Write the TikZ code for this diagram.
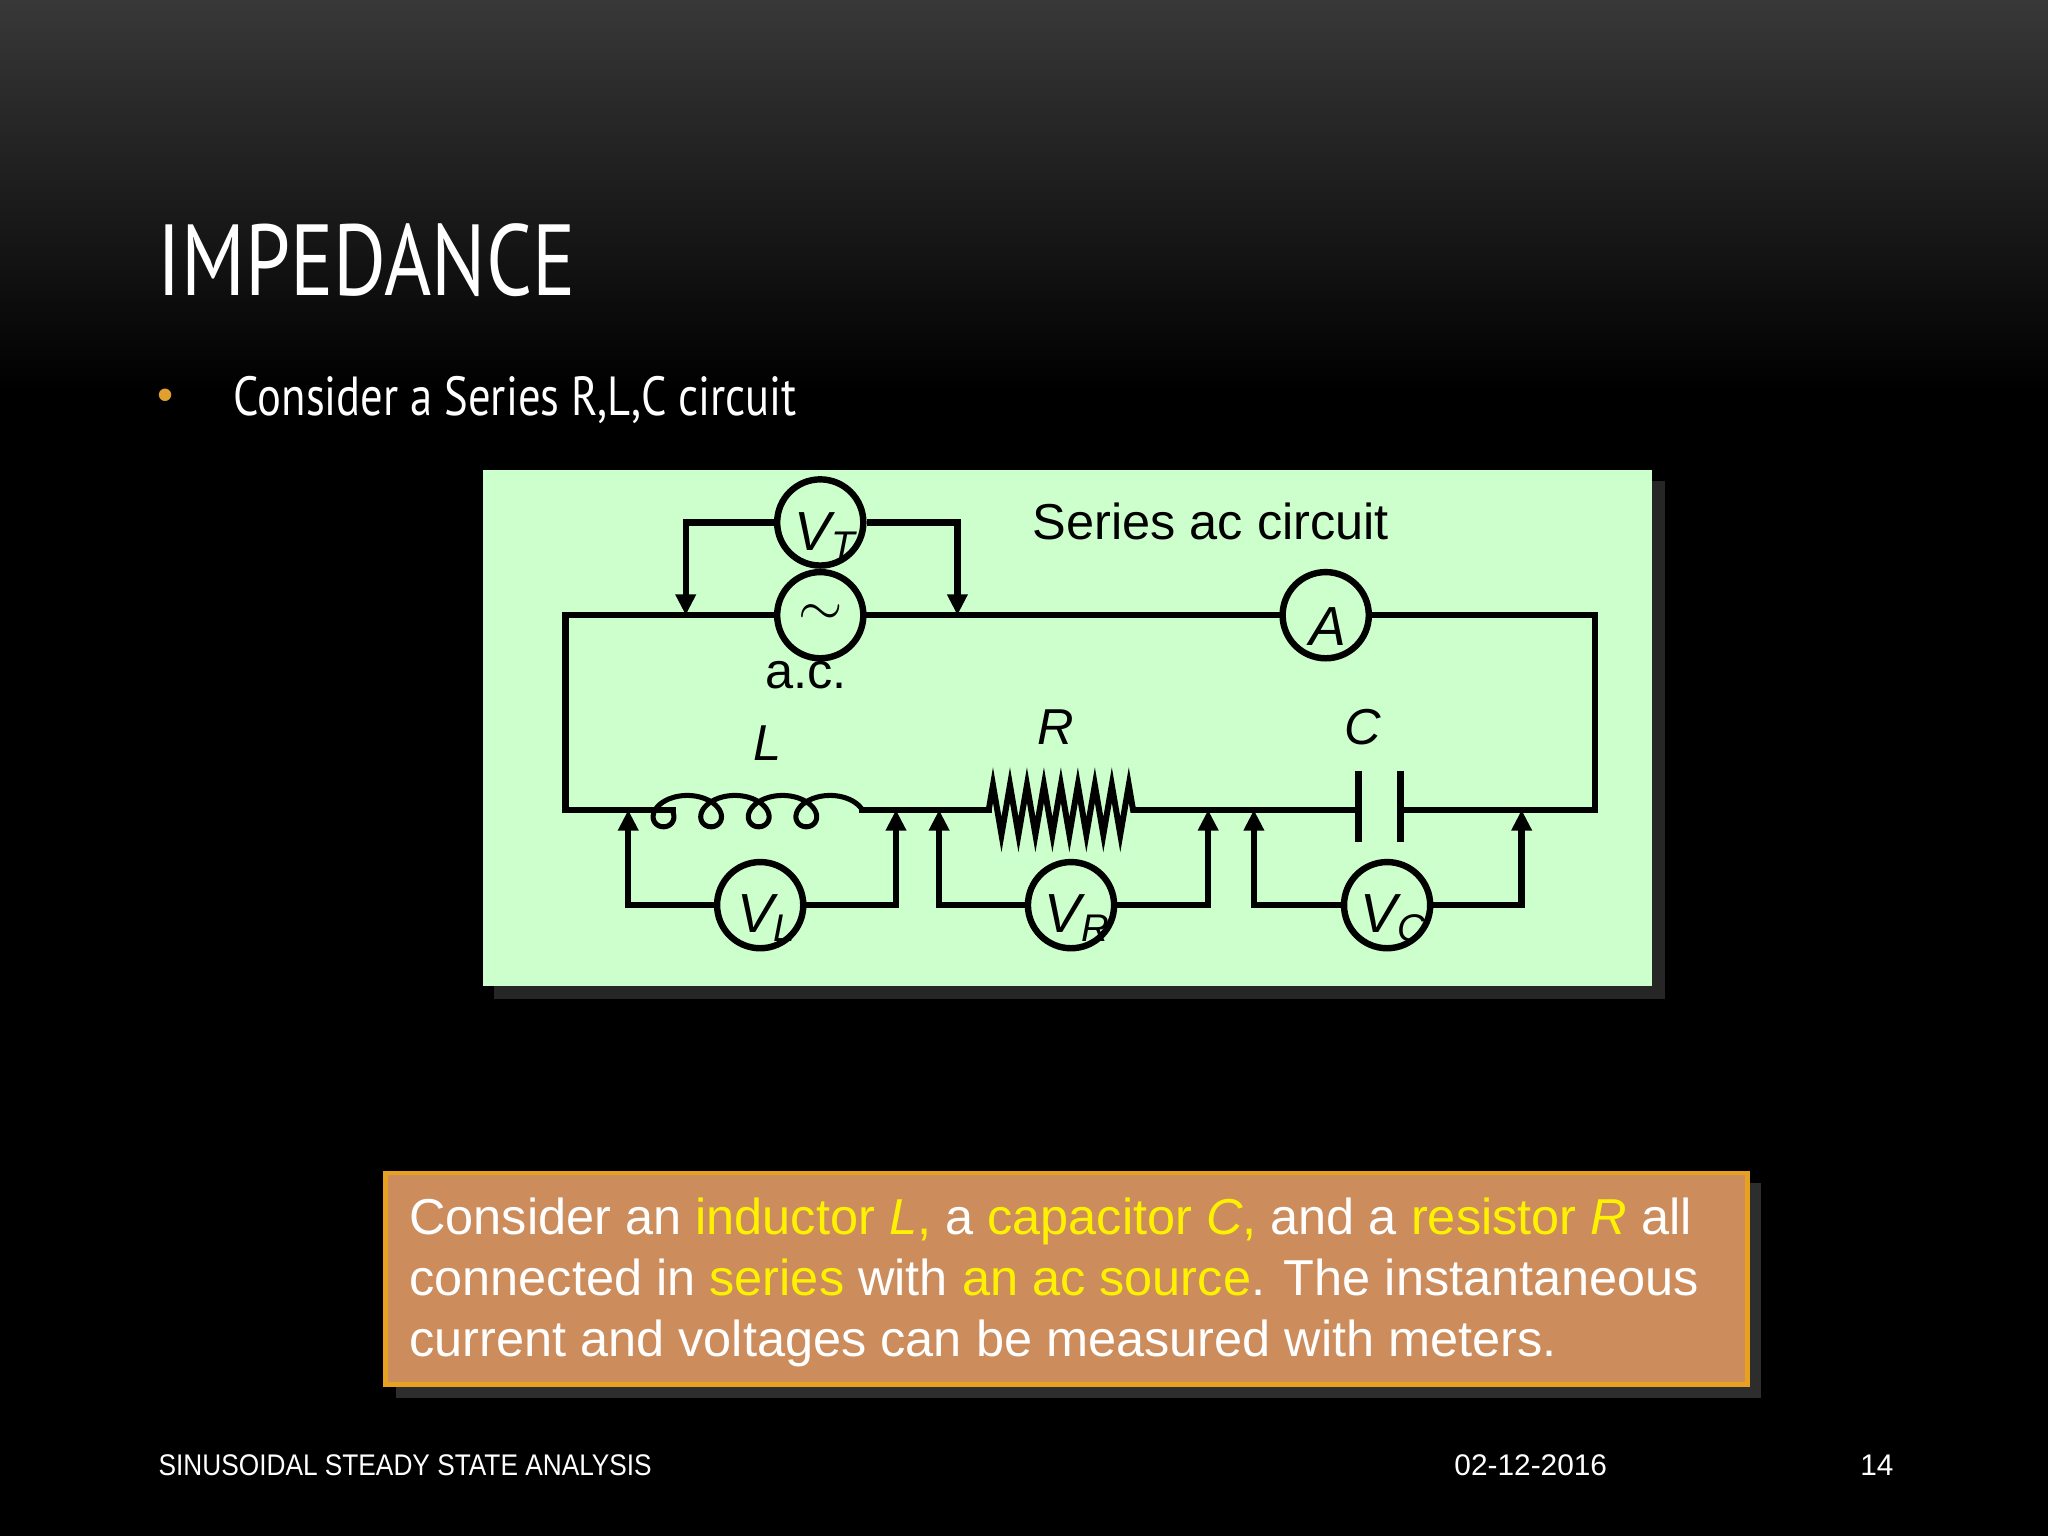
\documentclass[tikz,border=0pt]{standalone}
\usepackage{fontspec}
\setmainfont{Liberation Sans}
\newfontfamily\titlefont{PT Sans}
\usetikzlibrary{arrows.meta,decorations.pathmorphing,shadows}
\definecolor{boxgreen}{HTML}{CCFFCC}
\definecolor{boxorange}{HTML}{CC8C5C}
\definecolor{boxedge}{HTML}{E8A020}
\definecolor{hl}{HTML}{FFF200}
\definecolor{bul}{HTML}{E0A030}
\newcommand{\hy}[1]{\textcolor{hl}{#1}}
\begin{document}
\begin{tikzpicture}[x=0.02cm,y=-0.02cm,
  wire/.style={line width=2.8pt,line cap=rect},
  arr/.style={line width=2.8pt,-{Triangle[length=0.32cm,width=0.3cm]}},
  meter/.style={circle,draw,line width=2.8pt,minimum size=1.32cm,inner sep=0pt,fill=boxgreen},
  mlab/.style={font=\fontsize{24}{24}\selectfont\itshape},
  lab/.style={font=\fontsize{22}{22}\selectfont}]
\useasboundingbox (0,0) rectangle (1568,1176);
\shade[top color=black!78,bottom color=black] (0,0) rectangle (1568,300);
\fill[black] (0,299) rectangle (1568,1176);
\node[anchor=west,text=white,xscale=0.8,font=\titlefont\fontsize{44}{44}\selectfont] (title) at (116,199) {IMPEDANCE};
\node[text=bul,font=\fontsize{20}{20}\selectfont] (bullet) at (127,306) {\textbullet};
\node[anchor=west,text=white,xscale=0.81,font=\titlefont\fontsize{24}{24}\selectfont] (sub) at (174,306) {Consider a Series R,L,C circuit};
% green box
\fill[black!75,opacity=0.6] (378,368) rectangle (1275,765);
\fill[boxgreen] (370,360) rectangle (1265,755);
\node[lab] (stitle) at (927,399) {Series ac circuit};
% main loop
\coordinate (tl) at (433,471); \coordinate (tr) at (1221,471);
\coordinate (bl) at (433,620); \coordinate (br) at (1221,620);
\draw[wire] (bl) -- (tl) -- (tr) -- (br);
\coordinate (l1) at (515,620); \coordinate (l2) at (660,620);
\coordinate (r1) at (757,620); \coordinate (r2) at (870,620);
\coordinate (c1) at (1040,620); \coordinate (c2) at (1072,620);
\draw[wire] (bl) -- (l1);
\draw[line width=2.2pt,smooth] plot[domain=-1.5708:23.562,samples=240,variable=\t] ({508+5.8*\t-16*sin(\t r)},{621+12*cos(\t r)});
\draw[wire] (l2) -- (r1);
\draw[line width=2.6pt,decorate,decoration={zigzag,amplitude=0.38cm,segment length=0.26cm}] (r1) -- (r2);
\draw[wire] (r2) -- (c1);
\draw[line width=3.2pt] (1040,590) -- (1040,645) (1072,590) -- (1072,645);
\draw[wire] (c2) -- (br);
\node[lab,font=\fontsize{22}{22}\selectfont\itshape] (Ll) at (588,569) {L};
\node[lab,font=\fontsize{22}{22}\selectfont\itshape] (Rl) at (808,557) {R};
\node[lab,font=\fontsize{22}{22}\selectfont\itshape] (Cl) at (1043,557) {C};
% source and meters
\node[meter] (ac) at (628,471) {\fontsize{30}{30}\selectfont$\sim$};
\node[lab] (acl) at (617,517) {a.c.};
\node[meter] (vt) at (628,400) {};
\node[mlab] at (632,410) {V\textsubscript{T}};
\node[meter] (am) at (1015,471) {};
\node[mlab] at (1017,480) {A};
\coordinate (vta) at (525,471); \coordinate (vtb) at (733,471);
\draw[arr] (vt.west) -| (vta);
\draw[arr] (vt.east) -| (vtb);
\foreach \n/\x/\a/\b/\s in {vl/582/481/686/L, vr/820/719/925/R, vc/1062/960/1165/C}{
  \node[meter] (\n) at (\x,693) {};
  \node[mlab] at (\x+5,703) {V\textsubscript{\s}};
  \coordinate (\n a) at (\a,620); \coordinate (\n b) at (\b,620);
  \draw[arr] (\n.west) -| (\n a);
  \draw[arr] (\n.east) -| (\n b);
}
% orange box
\fill[black!70,opacity=0.6] (303,906) rectangle (1348,1070);
\draw[boxedge,line width=2pt,fill=boxorange] (295,898) rectangle (1338,1060);
\node[anchor=north west,text=white,align=left,font=\fontsize{22}{26.6}\selectfont,inner sep=0pt] (desc) at (313,917)
{Consider an \hy{inductor \textit{L},} a \hy{capacitor \textit{C},} and a \hy{resistor \textit{R}} all\\
connected in \hy{series} with \hy{an ac source}. The instantaneous\\
current and voltages can be measured with meters.};
% footer
\node[anchor=west,text=white,xscale=0.88,font=\fontsize{13}{13}\selectfont] (f1) at (116,1122) {SINUSOIDAL STEADY STATE ANALYSIS};
\node[text=white,font=\fontsize{13}{13}\selectfont] (f2) at (1172,1122) {02-12-2016};
\node[text=white,font=\fontsize{13}{13}\selectfont] (f3) at (1437,1122) {14};
\end{tikzpicture}
\end{document}
